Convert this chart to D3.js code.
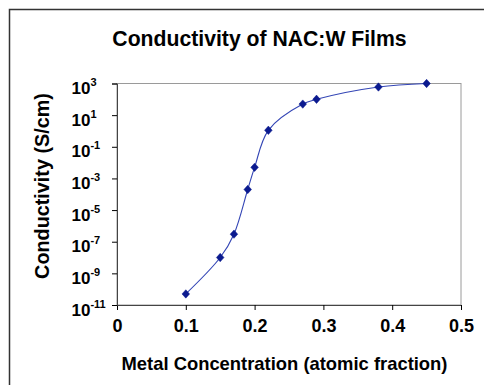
<!DOCTYPE html>
<html>
<head>
<meta charset="utf-8">
<script src="https://cdn.jsdelivr.net/npm/d3@7"></script>
<style>
  html, body { margin: 0; padding: 0; background: #fff; }
  svg { display: block; font-family: "Liberation Sans", Arial, sans-serif; }
</style>
</head>
<body>
<svg id="chart" width="484" height="385"></svg>
<script>
const concentration = [0.10, 0.15, 0.17, 0.19, 0.20, 0.22, 0.27, 0.29, 0.38, 0.45];
const conductivity = [5e-11, 1e-8, 3e-7, 2e-4, 5e-3, 1.1, 50, 100, 600, 1000];
const xTicks = [0, 0.1, 0.2, 0.3, 0.4, 0.5];
const yTickExponents = [3, 1, -1, -3, -5, -7, -9, -11];
const titleText = "Conductivity of NAC:W Films";
const xTitle = "Metal Concentration (atomic fraction)";
const yTitle = "Conductivity (S/cm)";

const svg = d3.select("#chart");
svg.append("rect").attr("width", 484).attr("height", 385).attr("fill", "#fff");
// outer chart frame
svg.append("rect").attr("x", 9.5).attr("y", 9.5).attr("width", 500).attr("height", 400)
  .attr("fill", "none").attr("stroke", "#333").attr("stroke-width", 1.5);

const L = 117, R = 461, T = 83.5, B = 305;
const x = d3.scaleLinear().domain([0, 0.5]).range([L, R]);
const y = d3.scaleLog().domain([1e-11, 1e3]).range([B, T]);

// plot area border
svg.append("rect").attr("x", L).attr("y", T).attr("width", R - L).attr("height", B - T)
  .attr("fill", "#fff").attr("stroke", "#9a9a9a").attr("stroke-width", 1);

// x axis
const xAxis = svg.append("g").attr("transform", `translate(0,${B})`)
  .call(d3.axisBottom(x).tickValues(xTicks).tickSize(5).tickPadding(9)
    .tickFormat(d => d === 0 ? "0" : d3.format(".1f")(d)));
xAxis.select(".domain").attr("stroke", "#444");
xAxis.selectAll(".tick line").attr("stroke", "#000");
xAxis.selectAll(".tick text").attr("font-size", 18).attr("font-weight", "bold")
  .attr("font-family", "Liberation Sans, Arial, sans-serif").attr("fill", "#000");

// y axis
const yAxis = svg.append("g").attr("transform", `translate(${L},0)`)
  .call(d3.axisLeft(y).tickValues(yTickExponents.map(e => Math.pow(10, e))).tickSize(5).tickFormat(""));
yAxis.select(".domain").attr("stroke", "#444");
yAxis.selectAll(".tick line").attr("stroke", "#000");

const yLabels = svg.append("g").attr("font-weight", "bold").attr("fill", "#000");
yTickExponents.forEach(e => {
  const t = yLabels.append("text").attr("x", 71.5).attr("y", y(Math.pow(10, e)) + 10.5)
    .attr("text-anchor", "start");
  t.append("tspan").attr("font-size", 17).text("10");
  t.append("tspan").attr("font-size", 11).attr("dy", -8).text(String(e));
});

// line
const pts = concentration.map((c, i) => [x(c), y(conductivity[i])]);
svg.append("path").attr("d", d3.line().curve(d3.curveCatmullRom.alpha(0.5))(pts))
  .attr("fill", "none").attr("stroke", "#3345b5").attr("stroke-width", 1.1);

// markers (diamonds)
svg.append("g").selectAll("path").data(pts).join("path")
  .attr("transform", d => `translate(${d[0]},${d[1]})`)
  .attr("d", "M0,-4.2L3.8,0L0,4.2L-3.8,0Z")
  .attr("fill", "#0b1a8f").attr("stroke", "#0b1a8f").attr("stroke-width", 0.5);

// titles
svg.append("text").attr("x", 259.5).attr("y", 45.5).attr("text-anchor", "middle")
  .attr("font-size", 21.2).attr("font-weight", "bold").text(titleText);
svg.append("text").attr("x", 284.5).attr("y", 369.5).attr("text-anchor", "middle")
  .attr("font-size", 18.4).attr("font-weight", "bold").text(xTitle);
svg.append("text").attr("transform", "translate(48.5,186) rotate(-90)").attr("text-anchor", "middle")
  .attr("font-size", 19.8).attr("font-weight", "bold").text(yTitle);
</script>
</body>
</html>
